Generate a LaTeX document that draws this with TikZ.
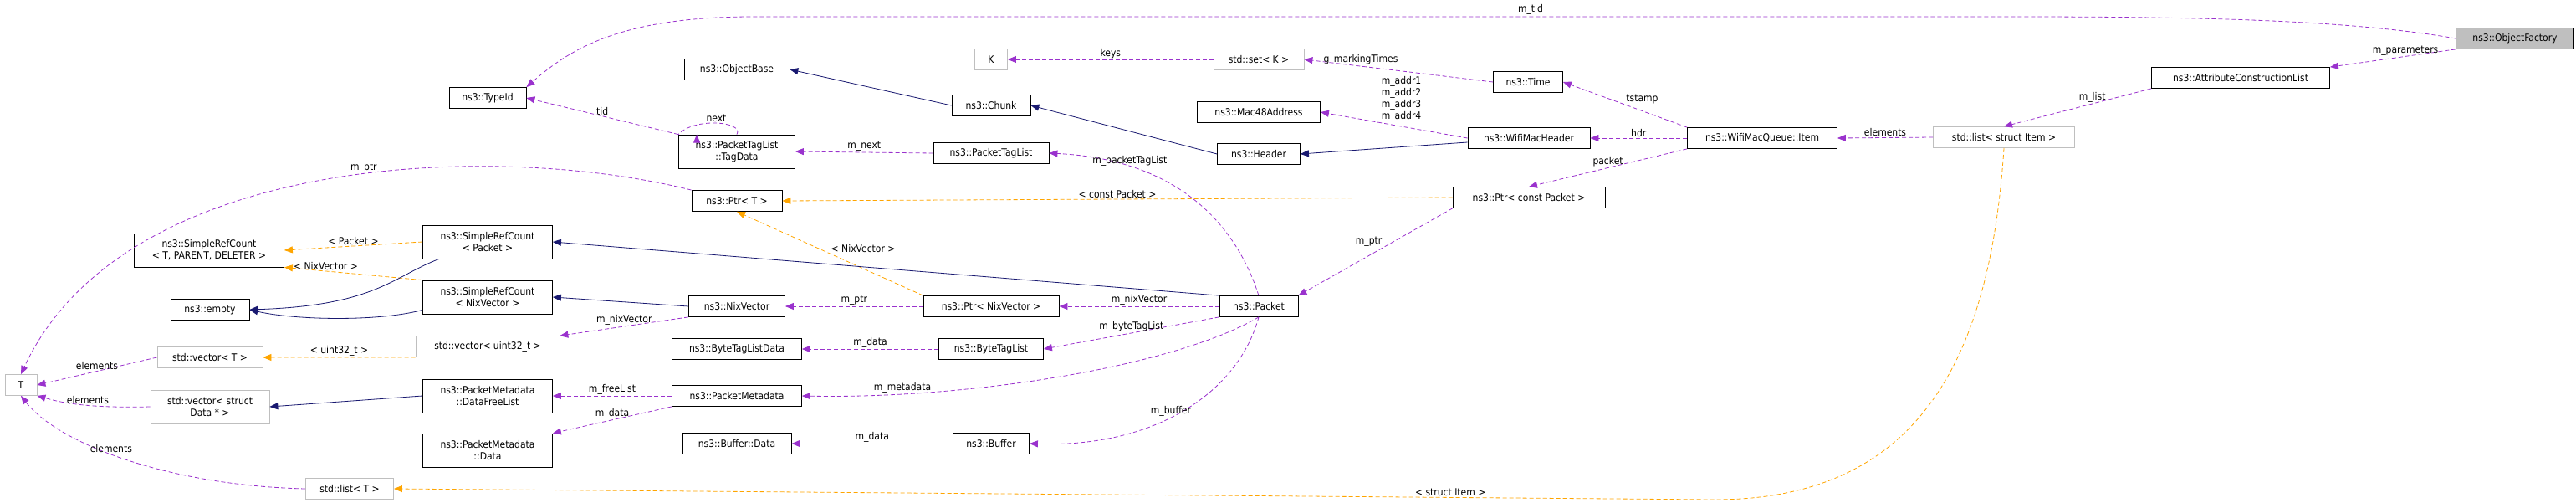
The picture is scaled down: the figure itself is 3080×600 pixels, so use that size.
\documentclass[tikz,border=0pt]{standalone}
\usepackage{fontspec}
\setmainfont{DejaVu Sans Condensed}
\usetikzlibrary{arrows.meta}
\definecolor{dxpurple}{HTML}{9A32CD}
\definecolor{dxnavy}{HTML}{191970}
\definecolor{dxorange}{HTML}{FFA500}
\definecolor{dxgray}{HTML}{BFBFBF}
\definecolor{dxfill}{HTML}{BFBFBF}
\begin{document}
\begin{tikzpicture}[x=1pt, y=-1pt,
  every node/.style={font=\fontsize{12}{14}\selectfont},
  box/.style={rectangle, draw=black, thick, fill=white, minimum height=25pt, inner xsep=4pt, align=center},
  gbox/.style={box, draw=dxgray},
  tbox/.style={box, minimum height=40pt},
  mem/.style={draw=dxpurple, thick, dashed, dash pattern=on 5pt off 3pt, -{Triangle[length=10pt,width=8pt]}},
  tpl/.style={draw=dxorange, thick, dashed, dash pattern=on 5pt off 3pt, -{Triangle[length=10pt,width=8pt]}},
  inh/.style={draw=dxnavy, thick, -{Triangle[length=10pt,width=8pt]}},
  lbl/.style={inner sep=1pt},
]
\useasboundingbox (0,0) rectangle (3080,600);

% left column
\node[gbox, minimum width=38pt] (tT) at (25,460) {T};
\node[tbox, minimum width=179pt] (srcT) at (250,299) {ns3::SimpleRefCount\\< T, PARENT, DELETER >};
\node[box, minimum width=94pt] (empty) at (251,370) {ns3::empty};
\node[gbox, minimum width=126pt] (vecT) at (251,427) {std::vector< T >};
\node[gbox, minimum width=142pt, minimum height=40pt] (vecData) at (251,486) {std::vector< struct\\Data * >};
\node[gbox, minimum width=105pt] (listT) at (418,584) {std::list< T >};

% second column
\node[box, minimum width=92pt] (tid) at (583,117) {ns3::TypeId};
\node[tbox, minimum width=155pt] (srcPkt) at (583,289) {ns3::SimpleRefCount\\< Packet >};
\node[tbox, minimum width=155pt] (srcNix) at (583,355) {ns3::SimpleRefCount\\< NixVector >};
\node[gbox, minimum width=172pt] (vecU32) at (583,414) {std::vector< uint32\_t >};
\node[tbox, minimum width=155pt] (freeList) at (583,473) {ns3::PacketMetadata\\::DataFreeList};
\node[tbox, minimum width=155pt] (pmData) at (583,538) {ns3::PacketMetadata\\::Data};

% third column
\node[box, minimum width=126pt] (objBase) at (881,83) {ns3::ObjectBase};
\node[tbox, minimum width=139pt] (tagData) at (881,181) {ns3::PacketTagList\\::TagData};
\node[box, minimum width=108pt] (ptrT) at (881,240) {ns3::Ptr< T >};
\node[box, minimum width=115pt] (nixVec) at (881,366) {ns3::NixVector};
\node[box, minimum width=155pt] (btld) at (881,417) {ns3::ByteTagListData};
\node[box, minimum width=155pt] (pktMeta) at (881,473) {ns3::PacketMetadata};
\node[box, minimum width=130pt] (bufData) at (881,530) {ns3::Buffer::Data};

% fourth column
\node[gbox, minimum width=39pt] (kK) at (1185,71) {K};
\node[box, minimum width=94pt] (chunk) at (1185,126) {ns3::Chunk};
\node[box, minimum width=138pt] (ptl) at (1185,183) {ns3::PacketTagList};
\node[box, minimum width=162pt] (ptrNix) at (1185,366) {ns3::Ptr< NixVector >};
\node[box, minimum width=125pt] (btl) at (1185,417) {ns3::ByteTagList};
\node[box, minimum width=91pt] (buffer) at (1185,530) {ns3::Buffer};

% fifth column
\node[gbox, minimum width=108pt] (setK) at (1505,71) {std::set< K >};
\node[box, minimum width=147pt] (mac48) at (1505,134) {ns3::Mac48Address};
\node[box, minimum width=99pt] (header) at (1505,184) {ns3::Header};
\node[box, minimum width=94pt] (packet) at (1505,366) {ns3::Packet};

% right part
\node[box, minimum width=83pt] (time) at (1827,98) {ns3::Time};
\node[box, minimum width=146pt] (wmh) at (1828,165) {ns3::WifiMacHeader};
\node[box, minimum width=182pt] (ptrCP) at (1828,236) {ns3::Ptr< const Packet >};
\node[box, minimum width=179pt] (item) at (2107,165) {ns3::WifiMacQueue::Item};
\node[gbox, minimum width=169pt] (listItem) at (2396,164) {std::list< struct Item >};
\node[box, minimum width=213pt] (acl) at (2679,93) {ns3::AttributeConstructionList};
\node[box, minimum width=141pt, fill=dxfill] (objFac) at (3007,46) {ns3::ObjectFactory};

% members
\draw[mem] (objFac.west) .. controls (2800,22) and (2600,20) .. (2400,20) -- (900,20)
  .. controls (740,20) and (680,60) .. (tid.north east);
\node[lbl] at (1830,11) {m\_tid};
\draw[mem] (objFac.south west) -- node[lbl, above, pos=0.4] {m\_parameters} (acl.north east);
\draw[mem] (acl.south west) -- node[lbl, above, pos=0.4] {m\_list} (listItem.north);
\draw[mem] (listItem.west) -- node[lbl, above] {elements} (item.east);
\draw[mem] (item.north west) -- node[lbl, above right] {tstamp} (time.east);
\draw[mem] (item.west) -- node[lbl, above] {hdr} (wmh.east);
\draw[mem] (item.south west) -- node[lbl, above] {packet} (ptrCP.north);
\draw[mem] (time.west) -- node[lbl, above, pos=0.7] {g\_markingTimes} (setK.east);
\draw[mem] (setK.west) -- node[lbl, above] {keys} (kK.east);
\draw[mem] (wmh.west) -- node[lbl, above, pos=0.45, align=center, yshift=4pt] {m\_addr1\\m\_addr2\\m\_addr3\\m\_addr4} (mac48.east);
\draw[mem] (ptrCP.south west) -- node[lbl, above left, pos=0.45] {m\_ptr} (packet.north east);
\draw[mem] (packet.north) .. controls (1475,260) and (1400,190) .. node[lbl, above, pos=0.75] {m\_packetTagList} (ptl.east);
\draw[mem] (packet.west) -- node[lbl, above] {m\_nixVector} (ptrNix.east);
\draw[mem] (packet.south west) -- node[lbl, above, pos=0.5] {m\_byteTagList} (btl.east);
\draw[mem] (packet.south) .. controls (1400,440) and (1150,477) .. node[lbl, above, pos=0.8] {m\_metadata} (pktMeta.east);
\draw[mem] (packet.south) .. controls (1480,470) and (1380,535) .. node[lbl, above, pos=0.55] {m\_buffer} (buffer.east);
\draw[mem] (ptl.west) -- node[lbl, above] {m\_next} (tagData.east);
\draw[mem] (tagData.north) .. controls (890,145) and (830,140) .. node[lbl, above] {next} (tagData.north west) ++(22,0);
\draw[mem] (tagData.north west) -- node[lbl, above] {tid} (tid.east);
\draw[mem] (ptrT.north west) .. controls (600,170) and (150,180) .. node[lbl, above, pos=0.45] {m\_ptr} (tT.north);
\draw[mem] (ptrNix.west) -- node[lbl, above] {m\_ptr} (nixVec.east);
\draw[mem] (nixVec.south west) -- node[lbl, above] {m\_nixVector} (vecU32.north east);
\draw[mem] (btl.west) -- node[lbl, above] {m\_data} (btld.east);
\draw[mem] (buffer.west) -- node[lbl, above] {m\_data} (bufData.east);
\draw[mem] (pktMeta.west) -- node[lbl, above] {m\_freeList} (freeList.east);
\draw[mem] (pktMeta.south west) -- node[lbl, above] {m\_data} (pmData.north east);
\draw[mem] (vecT.west) -- node[lbl, above] {elements} (tT.east);
\draw[mem] (vecData.west) .. controls (100,488) and (70,480) .. node[lbl, above, pos=0.4] {elements} (tT.south east);
\draw[mem] (listT.west) .. controls (200,580) and (70,530) .. node[lbl, above, pos=0.55] {elements} (tT.south);

% templates
\draw[tpl] (ptrCP.west) -- node[lbl, above, pos=0.5] {< const Packet >} (ptrT.east);
\draw[tpl] (ptrNix.north west) -- node[lbl, above right, pos=0.5] {< NixVector >} (ptrT.south);
\draw[tpl] (srcPkt.west) -- node[lbl, above] {< Packet >} (srcT.east);
\draw[tpl] (srcNix.north west) -- node[lbl, above, pos=0.7] {< NixVector >} (srcT.south east);
\draw[tpl] (vecU32.south west) -- node[lbl, above] {< uint32\_t >} (vecT.east);
\draw[tpl] (listItem.south) .. controls (2380,420) and (2300,597) .. (2050,597) -- node[lbl, above, pos=0.2] {< struct Item >} (listT.east);

% inheritance
\draw[inh] (header.west) -- (chunk.east);
\draw[inh] (chunk.west) -- (objBase.east);
\draw[inh] (wmh.west) ++(0,5) -- (header.east);
\draw[inh] (packet.north west) -- (srcPkt.east);
\draw[inh] (nixVec.west) -- (srcNix.east);
\draw[inh] (srcPkt.south west) ++(20,0) .. controls (470,330) and (450,365) .. (empty.east);
\draw[inh] (srcNix.south west) ++(0,-5) .. controls (450,385) and (350,382) .. (empty.east);
\draw[inh] (freeList.west) -- (vecData.east);
\end{tikzpicture}
\end{document}
